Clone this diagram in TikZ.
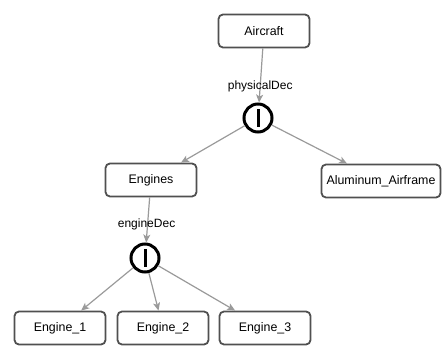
\documentclass[tikz,border=0pt]{standalone}
\usepackage{fontspec}
\setmainfont{Liberation Sans}
\usetikzlibrary{calc,shapes,positioning}
\usetikzlibrary{arrows.meta}
\tikzset{>={Stealth[length=8pt,width=7pt,inset=2pt]}}
\definecolor{boxgray}{HTML}{505050}
\definecolor{edgegray}{HTML}{9A9A9A}

\begin{document}
\begin{tikzpicture}[x=1pt,y=-1pt]
        \tikzstyle{cnode} = [line width=3pt, draw=black, circle, inner sep = 0pt, minimum size = 28pt]
        \tikzstyle{rnode} = [line width=1.8pt, draw=boxgray, fill=white, rectangle, rounded corners = 4.5pt, minimum width = 91pt, minimum height = 33pt, inner sep = 2pt, font=\fontsize{12.4}{15}\selectfont]
        \tikzstyle{lnode} = [inner sep = 0pt, font=\fontsize{12}{14}\selectfont]
        \tikzstyle{edge} = [->, line width=1.2pt, draw=edgegray, color=edgegray]

        \useasboundingbox (0,0) rectangle (444,347);

        \node[rnode] (air) at (264,31) {Aircraft};
        \node[cnode] (dec1) at (258,118) {\rule[-9pt]{3pt}{18pt}};
        \node[rnode] (eng) at (151,180) {Engines};
        \node[rnode, minimum width = 119pt] (alu) at (381,181) {Aluminum\_Airframe};
        \node[cnode] (dec2) at (145,258) {\rule[-9pt]{3pt}{18pt}};
        \node[rnode] (e1) at (60,328) {Engine\_1};
        \node[rnode] (e2) at (163,328) {Engine\_2};
        \node[rnode] (e3) at (265,328) {Engine\_3};

        \draw[edge] (air) -- node[lnode, pos=0.7, text=black] {physicalDec} (dec1);
        \draw[edge] (dec1) -- (eng);
        \draw[edge] (dec1) -- (alu);
        \draw[edge] (eng) -- node[lnode, pos=0.6, text=black, xshift=-1pt] {engineDec} (dec2);
        \draw[edge] (dec2) -- (e1);
        \draw[edge] (dec2) -- (e2);
        \draw[edge] (dec2) -- (e3);
      \end{tikzpicture}
\end{document}
